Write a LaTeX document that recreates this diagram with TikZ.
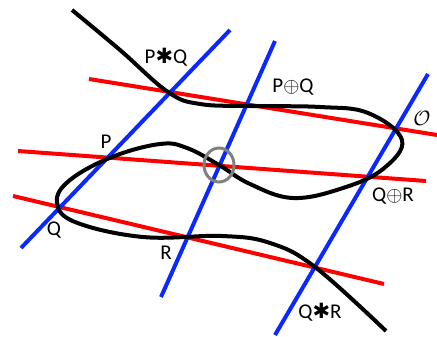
\documentclass[tikz,border=0pt]{standalone}
\usepackage{fontspec}
\setmainfont{Carlito}
\newfontfamily\symfont{DejaVu Sans}
\usetikzlibrary{positioning}
\definecolor{cblue}{HTML}{0A28FF}
\definecolor{cred}{HTML}{FF0000}
\definecolor{cgrey}{HTML}{808080}
\newcommand{\starop}{{\symfont\char"2731}}
\tikzset{
  every picture/.style={line width=4pt},
  secant/.style={draw=cred, line width=4pt},
  vertical/.style={draw=cblue, line width=4pt},
  curve/.style={draw=black, line width=4pt, line join=round},
  ptlabel/.style={font=\fontsize{21}{21}\selectfont, inner sep=0pt},
}
\begin{document}
\begin{tikzpicture}[x=1pt, y=-1pt]
  \useasboundingbox (0,0) rectangle (437,337);
  % line end points
  \coordinate (r1a) at (89,79);   \coordinate (r1b) at (437,135);
  \coordinate (r2a) at (18,151);  \coordinate (r2b) at (426,181);
  \coordinate (r3a) at (13,196);  \coordinate (r3b) at (384,284);
  \coordinate (b1a) at (21,248);  \coordinate (b1b) at (230,30);
  \coordinate (b2a) at (161,297); \coordinate (b2b) at (275,41);
  \coordinate (b3a) at (275,335); \coordinate (b3b) at (428,74);
  % secants and verticals
  \draw[secant] (r1a) -- (r1b);
  \draw[secant] (r2a) -- (r2b);
  \draw[secant] (r3a) -- (r3b);
  \draw[vertical] (b1a) -- (b1b);
  \draw[vertical] (b2a) -- (b2b);
  \draw[vertical] (b3a) -- (b3b);
  % the curve
  \draw[curve] plot[smooth, tension=0.65] coordinates {
    (72,10) (120,50) (168,92) (200,104) (250,106) (320,107) (368,113)
    (402,140) (383,169) (343,188) (293,198) (250,184) (219,165) (187,148)
    (160,144) (112,157) (70,180) (57,202) (75,222) (143,237) (222,236)
    (270,243) (315,267) (386,331)};
  % centre mark
  \draw[cgrey, line width=3pt] (219,165) ellipse[x radius=15, y radius=17];
  % labels
  \node[ptlabel] (lPQs) at (166,57)  {P\starop Q};
  \node[ptlabel] (lPQp) at (293,87)  {P$\oplus$Q};
  \node[ptlabel] (lO)   at (422,118) {$\mathcal{O}$};
  \node[ptlabel] (lP)   at (106,142) {P};
  \node[ptlabel] (lQ)   at (54,230)  {Q};
  \node[ptlabel] (lR)   at (166,253) {R};
  \node[ptlabel] (lQRp) at (393,196) {Q$\oplus$R};
  \node[ptlabel] (lQRs) at (320,312) {Q\starop R};
\end{tikzpicture}
\end{document}
